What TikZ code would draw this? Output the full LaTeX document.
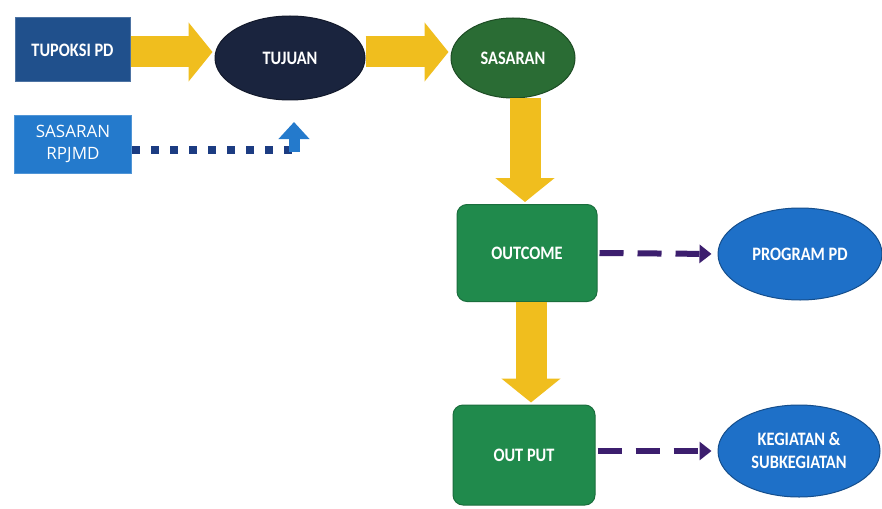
\documentclass[tikz,border=0pt]{standalone}
\usepackage{fontspec}
\setmainfont{Carlito}[FakeStretch=0.86]
\newfontfamily\rpfont{Open Sans}
\usetikzlibrary{shapes.geometric,arrows.meta}
\definecolor{ayellow}{RGB}{240,190,30}
\definecolor{tupoksi}{RGB}{32,80,140}
\definecolor{navy}{RGB}{26,36,62}
\definecolor{dgreen}{RGB}{42,108,52}
\definecolor{mgreen}{RGB}{32,138,76}
\definecolor{oblue}{RGB}{30,112,200}
\definecolor{rblue}{RGB}{36,122,204}
\definecolor{dotblue}{RGB}{28,60,130}
\definecolor{purp}{RGB}{60,30,110}
\tikzset{
  lbl/.style={text=white,font=\bfseries\fontsize{19}{23}\selectfont,align=center,inner sep=0pt},
  sq/.style={lbl,rectangle,draw=#1!80!white,line width=1pt,fill=#1},
  rsq/.style={lbl,rectangle,rounded corners=10pt,draw=#1!80!black,line width=1pt,fill=#1},
  ell/.style={lbl,ellipse,draw=#1!70!black,line width=1pt,fill=#1},
  bigarrow/.style={draw=ayellow,line width=31pt,-{Triangle[length=24pt,width=58pt]},shorten >=2pt},
  dasharrow/.style={draw=purp,line width=6pt,dash pattern=on 24pt off 14pt,-{Triangle[length=12pt,width=18pt]},shorten <=2pt,shorten >=6pt},
  dotline/.style={draw=dotblue,line width=8pt,dash pattern=on 8pt off 11pt},
  bluearrow/.style={draw=rblue,line width=11pt,-{Triangle[length=17pt,width=30pt]}}
}
\begin{document}
\begin{tikzpicture}[x=1pt,y=-1pt]
\useasboundingbox[fill=white] (0,0) rectangle (882,508);
\node[sq=tupoksi,minimum width=115pt,minimum height=64pt] (tup) at (72.5,50) {TUPOKSI PD};
\node[ell=navy,minimum width=150pt,minimum height=84pt] (tuj) at (290,58) {TUJUAN};
\node[ell=dgreen,minimum width=124pt,minimum height=80pt] (sas) at (513,58) {SASARAN};
\node[sq=rblue,minimum width=117pt,minimum height=58pt,font=\rpfont\fontsize{17}{22}\selectfont] (rpj) at (73,144) {SASARAN\\RPJMD};
\node[rsq=mgreen,minimum width=140pt,minimum height=97pt] (out) at (527,253) {OUTCOME};
\node[rsq=mgreen,minimum width=142pt,minimum height=100pt] (put) at (524,455) {OUT PUT};
\node[ell=oblue,minimum width=164pt,minimum height=92pt] (prog) at (800,254) {PROGRAM PD};
\node[ell=oblue,minimum width=162pt,minimum height=92pt] (keg) at (799,451) {KEGIATAN \&\\SUBKEGIATAN};
% yellow arrows
\draw[bigarrow] (tup.east |- 0,52) -- (tuj.west |- 0,52);
\draw[bigarrow] (tuj.east |- 0,52) -- (sas.west |- 0,52);
\draw[bigarrow] (sas.south -| 525,0) -- (out.north -| 525,0);
\draw[bigarrow] (out.south -| 531,0) -- (put.north -| 531,0);
% dashed purple
\draw[dasharrow] (out.east) -- (prog.west);
\draw[dasharrow] (put.east |- keg.west) -- (keg.west);
% dotted from RPJMD to TUJUAN
\coordinate (turn) at (294,150);
\coordinate (tip) at (294,122);
\draw[dotline] (rpj.east |- turn) -- (turn);
\draw[bluearrow] ([yshift=-2pt]turn) -- (tip);
\end{tikzpicture}
\end{document}
